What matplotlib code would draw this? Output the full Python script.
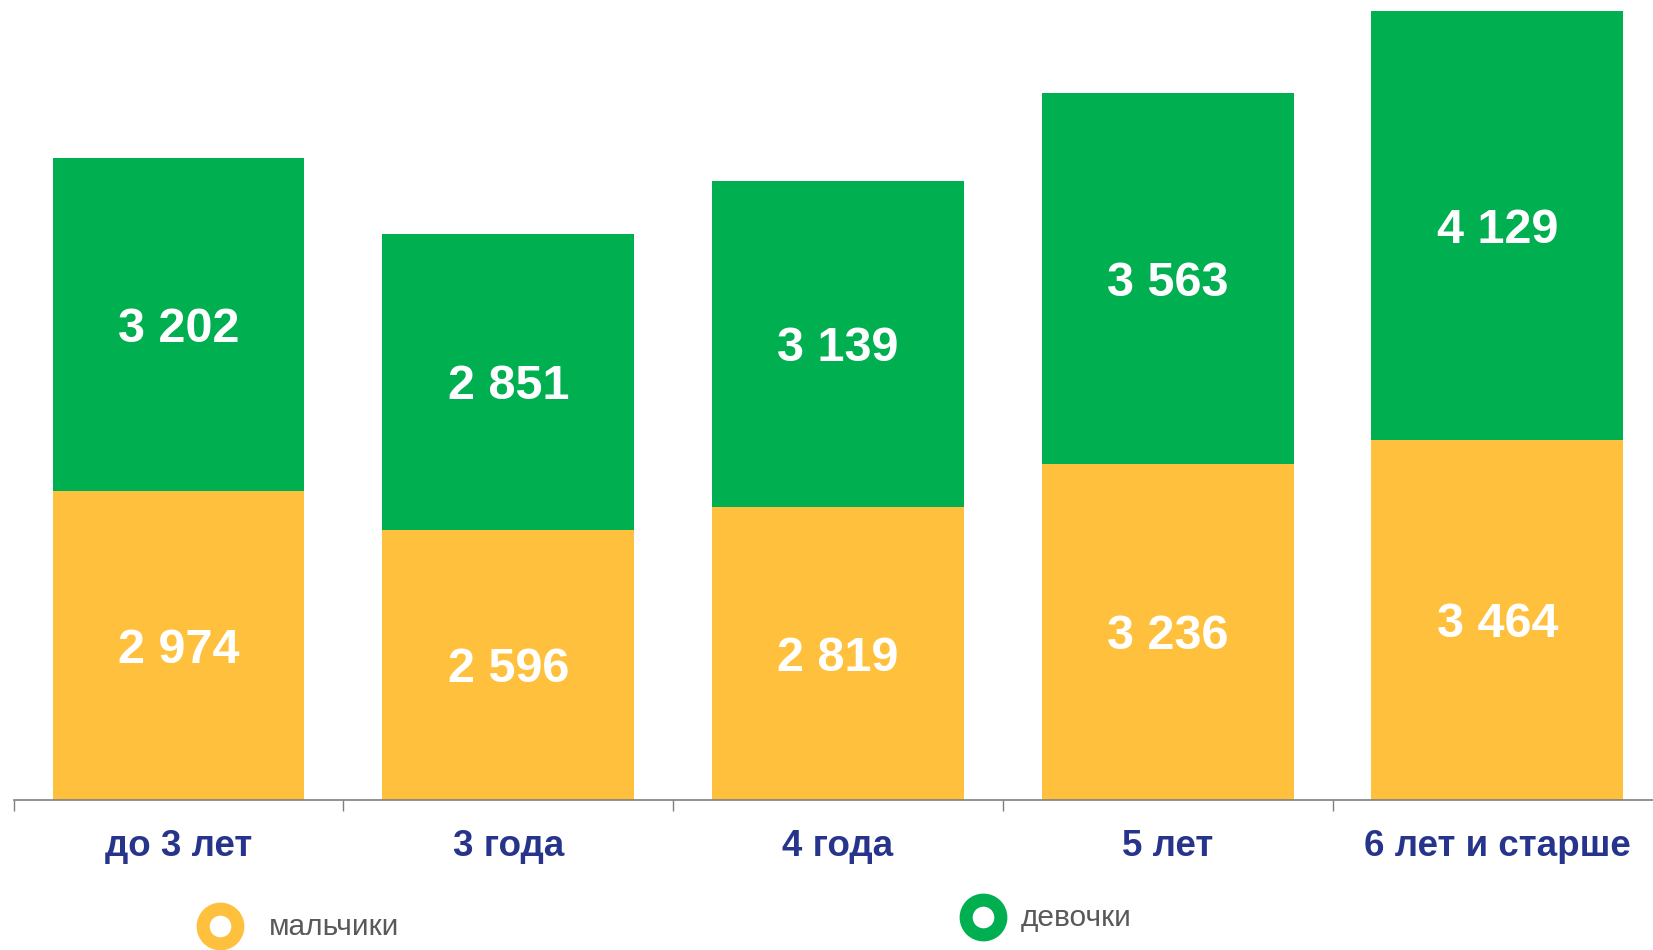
import matplotlib
matplotlib.use("Agg")
import matplotlib.pyplot as plt
from matplotlib.lines import Line2D
import numpy as np

categories = ["до 3 лет", "3 года", "4 года", "5 лет", "6 лет и старше"]
boys = [2974, 2596, 2819, 3236, 3464]
girls = [3202, 2851, 3139, 3563, 4129]
series_names = ["мальчики", "девочки"]

YELLOW = "#FFC13D"
GREEN = "#00AF50"
NAVY = "#27348B"
GREY_TXT = "#595959"

plt.rcParams['font.family'] = ['Liberation Sans', 'DejaVu Sans']

W, H = 1653, 950
fig = plt.figure(figsize=(W / 100, H / 100), dpi=100)
ax_left = 13.7 / W
ax_bottom = 150 / H
ax = fig.add_axes([ax_left, ax_bottom, 1 - ax_left, 1 - ax_bottom])

x = np.arange(len(categories))
width = 0.764
ax.bar(x, boys, width, color=YELLOW, linewidth=0)
ax.bar(x, girls, width, bottom=boys, color=GREEN, linewidth=0)

def fmt(v):
    return f"{v:,}".replace(",", " ")

for i in range(len(categories)):
    ax.annotate(fmt(boys[i]), (x[i], boys[i] / 2), xytext=(0, -3.5),
                textcoords="offset points", ha="center", va="center",
                color="white", fontsize=35, fontweight="bold")
    ax.annotate(fmt(girls[i]), (x[i], boys[i] + girls[i] / 2), xytext=(0, -3.5),
                textcoords="offset points", ha="center", va="center",
                color="white", fontsize=35, fontweight="bold")

ax.set_xlim(-0.5, -0.5 + (W - 13.7) / 329.7)
ax.set_ylim(0, 7694)

for s in ["top", "right", "left"]:
    ax.spines[s].set_visible(False)
ax.spines["bottom"].set_color("#7F7F7F")
ax.spines["bottom"].set_linewidth(1.2)
ax.set_yticks([])

ax.set_xticks(x)
ax.set_xticklabels(categories, fontsize=26.5, fontweight="bold", color=NAVY)
ax.tick_params(axis="x", which="major", length=0, pad=21)
ax.set_xticks(np.arange(-0.5, len(categories) - 0.5, 1.0), minor=True)
ax.tick_params(axis="x", which="minor", length=8, width=1, color="#7F7F7F")

# legend
legend_items = [
    (220 / W, (950 - 925.6) / H, 269 / W, YELLOW, series_names[0]),
    (982.5 / W, (950 - 917) / H, 1020.5 / W, GREEN, series_names[1]),
]
for mx, my, tx, col, name in legend_items:
    fig.add_artist(Line2D([mx], [my], transform=fig.transFigure, marker="o",
                          markersize=25, markerfacecolor="white",
                          markeredgecolor=col, markeredgewidth=9.4, linestyle="none"))
    fig.text(tx, my - 1.5 / H, name, ha="left", va="center", fontsize=21.5, color=GREY_TXT)

fig.savefig("out.png", dpi=100)
